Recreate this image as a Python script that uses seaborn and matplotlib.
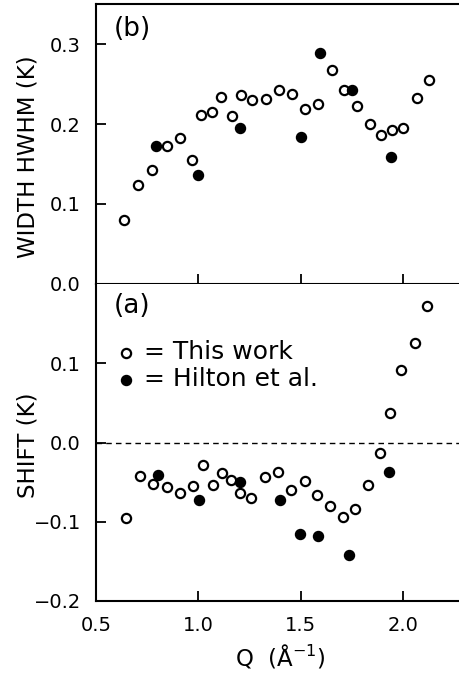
import matplotlib
matplotlib.use("Agg")
import matplotlib.pyplot as plt
import seaborn as sns

# ---- data ----
# (b) width HWHM
q_width_this = [0.638, 0.706, 0.776, 0.846, 0.910, 0.967, 1.013, 1.066, 1.113, 1.163,
                1.208, 1.261, 1.331, 1.395, 1.458, 1.523, 1.586, 1.656, 1.714, 1.777,
                1.839, 1.894, 1.947, 2.000, 2.071, 2.130]
w_this = [0.080, 0.124, 0.143, 0.173, 0.182, 0.155, 0.211, 0.215, 0.234, 0.210,
          0.236, 0.230, 0.231, 0.242, 0.237, 0.219, 0.225, 0.267, 0.243, 0.223,
          0.200, 0.186, 0.192, 0.195, 0.232, 0.255]
q_width_hilton = [0.794, 1.000, 1.204, 1.503, 1.595, 1.751, 1.940]
w_hilton = [0.172, 0.136, 0.195, 0.184, 0.289, 0.242, 0.159]

# (a) shift
q_shift_this = [0.646, 0.715, 0.780, 0.849, 0.911, 0.972, 1.021, 1.070, 1.116, 1.161,
                1.205, 1.259, 1.328, 1.390, 1.452, 1.521, 1.580, 1.644, 1.707, 1.767,
                1.828, 1.887, 1.936, 1.992, 2.059, 2.120]
s_this = [-0.095, -0.042, -0.052, -0.056, -0.064, -0.055, -0.029, -0.054, -0.038, -0.047,
          -0.064, -0.070, -0.043, -0.037, -0.060, -0.048, -0.066, -0.080, -0.094, -0.084,
          -0.054, -0.013, 0.037, 0.091, 0.126, 0.172]
q_shift_hilton = [0.803, 1.003, 1.203, 1.400, 1.497, 1.587, 1.738, 1.934]
s_hilton = [-0.041, -0.072, -0.050, -0.072, -0.115, -0.118, -0.142, -0.037]

x_ticks = [0.5, 1.0, 1.5, 2.0]
top_yticks = [0.0, 0.1, 0.2, 0.3]
bot_yticks = [-0.2, -0.1, 0.0, 0.1]

sns.set_theme(style="ticks")
plt.rcParams["font.family"] = ["DejaVu Sans"]
plt.rcParams["mathtext.fontset"] = "dejavusans"
for k in ("text.color", "axes.labelcolor", "xtick.color", "ytick.color", "axes.edgecolor"):
    plt.rcParams[k] = "black"

W, H = 459, 676
fig = plt.figure(figsize=(W / 100, H / 100), dpi=100)
left = 96 / W
width = 1.0 - left + 0.01
ax_top = fig.add_axes([left, 1 - 284 / H, width, 280 / H])
ax_bot = fig.add_axes([left, 1 - 601 / H, width, 317 / H])

xmin, xmax = 0.5, 0.5 + (W - 96) / 202.0

open_kw = dict(marker="o", s=44, color="white", edgecolor="black", linewidth=1.6, zorder=3)
fill_kw = dict(marker="o", s=52, color="black", edgecolor="black", linewidth=1.0, zorder=4)

sns.scatterplot(x=q_width_this, y=w_this, ax=ax_top, **open_kw)
sns.scatterplot(x=q_width_hilton, y=w_hilton, ax=ax_top, **fill_kw)

sns.scatterplot(x=q_shift_this, y=s_this, ax=ax_bot, label="= This work", **open_kw)
sns.scatterplot(x=q_shift_hilton, y=s_hilton, ax=ax_bot, label="= Hilton et al.", **fill_kw)
ax_bot.axhline(0.0, color="black", lw=1.0, ls=(0, (4, 3)), zorder=1)

for ax in (ax_top, ax_bot):
    ax.set_xlim(xmin, xmax)
    ax.set_xticks(x_ticks)
    for side in ("left", "top", "bottom"):
        ax.spines[side].set_linewidth(1.5)
        ax.spines[side].set_color("black")
    ax.spines["right"].set_visible(False)
    ax.tick_params(direction="in", length=7, width=1.3, colors="black",
                   labelsize=14, pad=11)

ax_top.set_ylim(0.0, 0.35)
ax_top.set_yticks(top_yticks)
ax_top.set_yticklabels(["0.0", "0.1", "0.2", "0.3"])
ax_top.tick_params(axis="x", labelbottom=False)
ax_top.set_ylabel("WIDTH HWHM (K)", fontsize=16.5)
ax_top.text(0.099, 0.91, "(b)", transform=ax_top.transAxes, fontsize=19,
            ha="center", va="center")

ax_bot.set_ylim(-0.2, 0.2)
ax_bot.set_yticks(bot_yticks)
ax_bot.set_yticklabels(["\u22120.2", "\u22120.1", "0.0", "0.1"])
ax_bot.spines["top"].set_visible(False)
ax_bot.set_xticklabels(["0.5", "1.0", "1.5", "2.0"])
ax_bot.set_ylabel("SHIFT (K)", fontsize=16.5)
ax_bot.set_xlabel("Q  (Å$^{-1}$)", fontsize=16.5, labelpad=5)
ax_bot.text(0.099, 0.93, "(a)", transform=ax_bot.transAxes, fontsize=19,
            ha="center", va="center")

leg = ax_bot.legend(loc="upper left", bbox_to_anchor=(0.0, 0.87), frameon=False,
                    fontsize=18, handletextpad=0.1, labelspacing=0.12,
                    handlelength=1.2, borderaxespad=0.2, markerscale=1.0)
for t in leg.get_texts():
    t.set_color("black")

ax_top.yaxis.set_label_coords(-0.155, 0.455)
ax_bot.yaxis.set_label_coords(-0.155, 0.49)

fig.savefig("out.png", dpi=100)
